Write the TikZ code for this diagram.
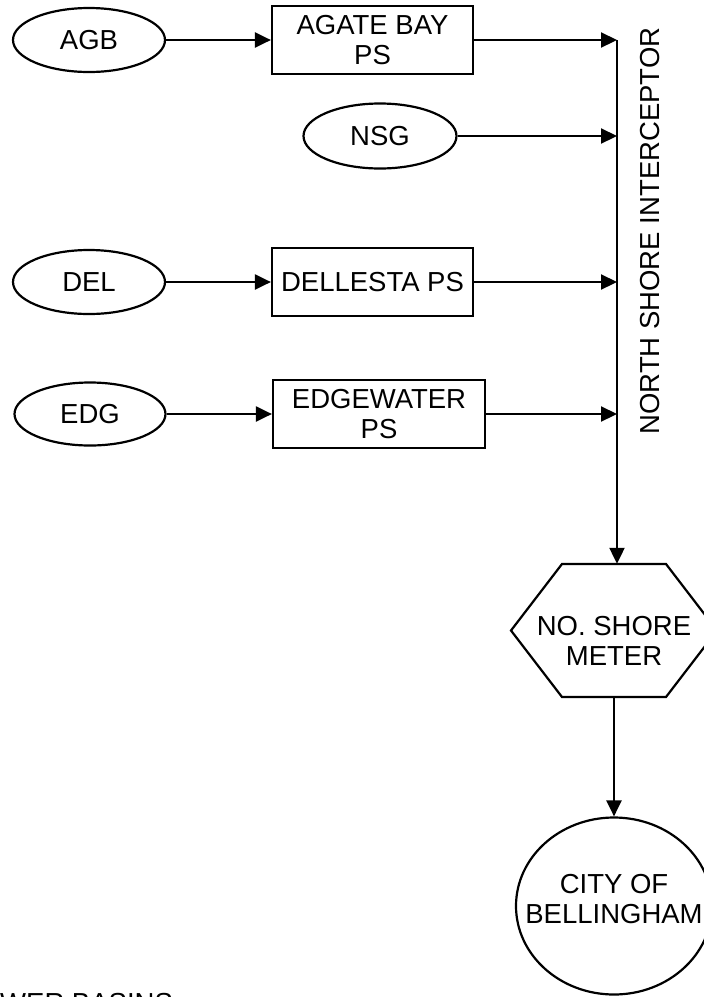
\documentclass[tikz,border=0pt]{standalone}
\usepackage{fontspec}
\setmainfont{Liberation Sans}
\usetikzlibrary{shapes,arrows.meta}
\tikzset{basin/.style={draw, ellipse, line width=2.2pt, minimum width=152pt, minimum height=64pt, inner sep=0pt},
pumpst/.style={draw, rectangle, line width=2.2pt, minimum width=201pt, minimum height=68pt, inner sep=0pt, align=center},
flow/.style={line width=2.2pt, -{Triangle[length=16pt,width=15pt]}}}
\newcommand{\lbl}{\fontsize{27.5}{30}\selectfont}

\begin{document}
\begin{tikzpicture}[x=1pt,y=-1pt,font=\lbl]
\path[use as bounding box, fill=white] (0,0) rectangle (704,997);
\clip (0,0) rectangle (704,997);
\node[basin] (agb) at (89,40) {AGB};
\node[pumpst] (agps) at (372.5,40) {AGATE BAY\\PS};
\node[basin, minimum width=153pt, minimum height=65pt] (nsg) at (380,136) {NSG};
\node[basin] (del) at (89,282) {DEL};
\node[pumpst] (delps) at (372.5,282) {DELLESTA PS};
\node[basin, minimum width=151pt, minimum height=63pt] (edg) at (90,414) {EDG};
\node[pumpst, minimum width=212pt] (edgps) at (379,414) {EDGEWATER\\PS};
\coordinate (top) at (617,40);
\node[rotate=90] (interceptor) at (650,231) {NORTH SHORE INTERCEPTOR};
\node[minimum height=133pt, inner sep=0pt, label={[name=metertext, yshift=-10pt, align=center]center:NO. SHORE\\METER}] (meter) at (614,630.5) {};
\draw[line width=2.2pt] ([shift={(-52,-66.5)}]meter.center) -- ++(104,0) -- ++(51,66.5) -- ++(-51,66.5) -- ++(-104,0) -- ++(-51,-66.5) -- cycle;
\node[basin, minimum width=196pt, minimum height=177pt, label={[name=citytext, yshift=7pt, align=center]center:CITY OF\\BELLINGHAM}] (city) at (614,906) {};
\node[anchor=base west, inner sep=0pt] (basins) at (0,1012) {WER BASINS};
\draw[flow] (agb) -- (agps);
\draw[flow] (agps) -- (agps -| top);
\draw[flow] (nsg) -- (nsg -| top);
\draw[flow] (del) -- (delps);
\draw[flow] (delps) -- (delps -| top);
\draw[flow] (edg) -- (edgps);
\draw[flow] (edgps) -- (edgps -| top);
\draw[flow] (top) -- (top |- meter.north);
\draw[flow] (meter.south) -- (city.north);
\end{tikzpicture}
\end{document}
